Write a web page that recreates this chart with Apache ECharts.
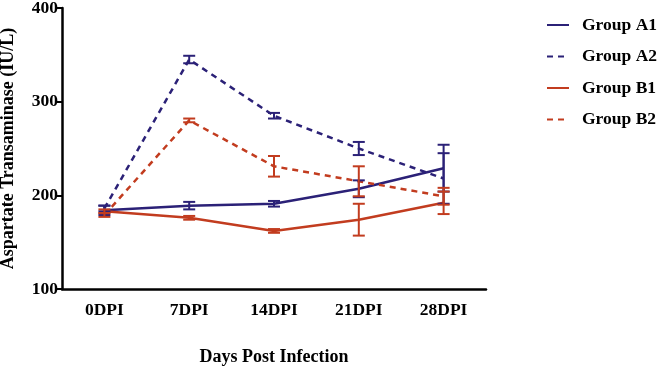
<!DOCTYPE html>
<html>
<head>
<meta charset="utf-8">
<script src="https://cdn.jsdelivr.net/npm/echarts@6/dist/echarts.min.js"></script>
<style>
  html, body { margin: 0; padding: 0; background: #fff; }
  #chart { width: 660px; height: 372px; }
</style>
</head>
<body>
<div id="chart"></div>
<script>
const days = ["0DPI", "7DPI", "14DPI", "21DPI", "28DPI"];

const groupA1 = [184, 189, 191, 207, 229];
const groupA1Err = [5, 4, 3, 9, 25];
const groupA2 = [186, 345, 285, 250, 218];
const groupA2Err = [3, 4, 3, 7, 27];
const groupB1 = [183, 176, 162, 174, 192];
const groupB1Err = [2, 2, 2, 17, 12];
const groupB2 = [179, 280, 231, 215, 199];
const groupB2Err = [2, 2, 11, 16, 9];

const BLUE = "#2b2177";
const RED = "#c23c1f";
const FONT = "Liberation Serif";

const chart = echarts.init(document.getElementById("chart"));

function lineSeries(name, data, color, dashed) {
  return {
    name: name,
    type: "line",
    data: data,
    symbol: "none",
    lineStyle: { color: color, width: 2.5, type: dashed ? [6, 5] : "solid" },
    itemStyle: { color: color },
    z: 3,
  };
}

function errSeries(name, mean, err, color) {
  const rows = mean.map((m, i) => [i, m - err[i], m + err[i]]);
  return {
    name: name + " err",
    type: "custom",
    data: rows,
    encode: { x: 0, y: [1, 2] },
    z: 4,
    renderItem: function (params, api) {
      const lo = api.coord([api.value(0), api.value(1)]);
      const hi = api.coord([api.value(0), api.value(2)]);
      const w = 6;
      const style = { stroke: color, lineWidth: 2 };
      return {
        type: "group",
        children: [
          { type: "line", shape: { x1: lo[0], y1: lo[1], x2: hi[0], y2: hi[1] }, style: style },
          { type: "line", shape: { x1: lo[0] - w, y1: lo[1], x2: lo[0] + w, y2: lo[1] }, style: style },
          { type: "line", shape: { x1: hi[0] - w, y1: hi[1], x2: hi[0] + w, y2: hi[1] }, style: style },
        ],
      };
    },
  };
}

const tickText = { fontFamily: FONT, fontWeight: "bold", fontSize: 17.5, color: "#000" };
const nameText = { fontFamily: FONT, fontWeight: "bold", fontSize: 18, color: "#000" };

const option = {
  animation: false,
  textStyle: { fontFamily: FONT },
  grid: { left: 62, top: 8, right: 174, bottom: 83, outerBoundsMode: "none", containLabel: false },
  legend: {
    orient: "vertical",
    left: 546,
    top: 16,
    padding: 0,
    itemWidth: 22,
    itemHeight: 12,
    itemGap: 13.5,
    itemStyle: { opacity: 0 },
    data: ["Group A1", "Group A2", "Group B1", "Group B2"],
    textStyle: { fontFamily: FONT, fontWeight: "bold", fontSize: 17.5, color: "#000", padding: [0, 0, 0, 8] },
  },
  xAxis: {
    type: "category",
    data: days,
    boundaryGap: true,
    name: "Days Post Infection",
    nameLocation: "middle",
    nameGap: 59,
    nameTextStyle: nameText,
    axisLine: { lineStyle: { color: "#000", width: 2.5 } },
    axisTick: { alignWithLabel: true, length: 6, lineStyle: { color: "#000", width: 2 } },
    axisLabel: Object.assign({ margin: 12 }, tickText),
  },
  yAxis: {
    type: "value",
    min: 100,
    max: 400,
    interval: 100,
    name: "Aspartate Transaminase (IU/L)",
    nameLocation: "middle",
    nameGap: 45,
    nameTextStyle: nameText,
    axisLine: { show: true, lineStyle: { color: "#000", width: 2.5 } },
    axisTick: { show: true, length: 6, lineStyle: { color: "#000", width: 2 } },
    axisLabel: Object.assign({ margin: 4 }, tickText),
    splitLine: { show: false },
  },
  series: [
    lineSeries("Group A1", groupA1, BLUE, false),
    lineSeries("Group A2", groupA2, BLUE, true),
    lineSeries("Group B1", groupB1, RED, false),
    lineSeries("Group B2", groupB2, RED, true),
    errSeries("Group A1", groupA1, groupA1Err, BLUE),
    errSeries("Group A2", groupA2, groupA2Err, BLUE),
    errSeries("Group B1", groupB1, groupB1Err, RED),
    errSeries("Group B2", groupB2, groupB2Err, RED),
  ],
};

chart.setOption(option);
</script>
</body>
</html>
